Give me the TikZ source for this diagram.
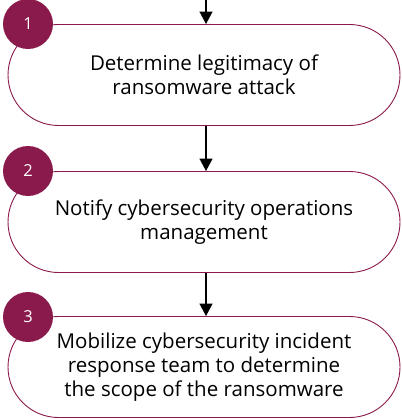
\documentclass[tikz,border=0pt]{standalone}
\usepackage{fontspec}
\setmainfont{Open Sans}
\usetikzlibrary{shapes.misc, arrows.meta}
\definecolor{maroon}{HTML}{8A1A4B}
\begin{document}
\begin{tikzpicture}[x=1pt,y=-1pt,
 stepbox/.style={rounded rectangle, draw=maroon, line width=0.9pt, minimum width=392pt, minimum height=101pt, align=center, font=\fontsize{20.5}{24}\selectfont, inner sep=0pt},
 badge/.style={circle, fill=maroon, minimum size=50pt, inner sep=0pt, text=white, font=\fontsize{16.5}{18}\selectfont},
 flow/.style={-{Triangle[length=12.5pt,width=13pt]}, line width=1.2pt}]
\useasboundingbox (0,0) rectangle (401,419);
\node[stepbox] (b1) at (204,75) {Determine legitimacy of\\ransomware attack};
\node[stepbox] (b2) at (204,222) {Notify cybersecurity operations\\management};
\node[stepbox] (b3) at (204,367) {Mobilize cybersecurity incident\\response team to determine\\the scope of the ransomware};
\node[badge] (n1) at (28,24) {1};
\node[badge] (n2) at (28,171) {2};
\node[badge] (n3) at (28,317) {3};
\coordinate (top) at (206,-2);
\draw[flow] (top) -- (b1.north -| top);
\draw[flow] (b1.south -| top) -- (b2.north -| top);
\draw[flow] (b2.south -| top) -- (b3.north -| top);
\end{tikzpicture}
\end{document}
